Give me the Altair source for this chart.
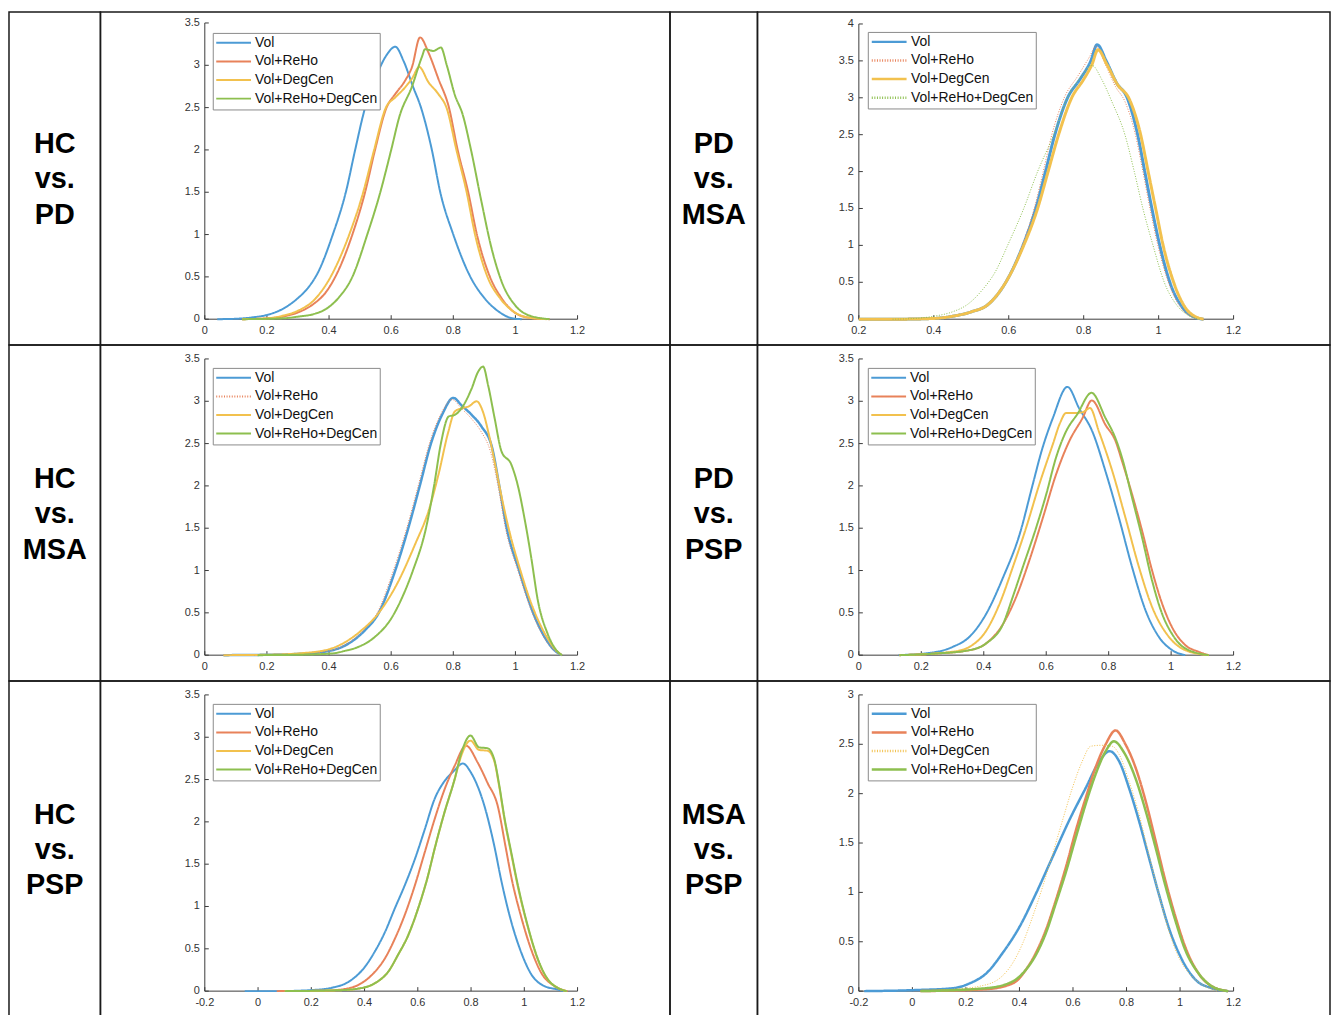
import altair as alt
import pandas as pd

# ---------------- data ----------------
SERIES = ["Vol", "Vol+ReHo", "Vol+DegCen", "Vol+ReHo+DegCen"]
COLORS = ["#4C9BD5", "#E8825A", "#F2C14E", "#8DBF4F"]

ROW_LABELS = [["HC\nvs.\nPD", "PD\nvs.\nMSA"],
              ["HC\nvs.\nMSA", "PD\nvs.\nPSP"],
              ["HC\nvs.\nPSP", "MSA\nvs.\nPSP"]]

# Panel 1: HC vs. PD
P1_VOL_X = [0.04, 0.10, 0.15, 0.20, 0.25, 0.30, 0.33, 0.364, 0.412, 0.454, 0.484, 0.516, 0.555, 0.585, 0.613, 0.64, 0.67, 0.696, 0.731, 0.758, 0.80, 0.855, 0.90, 0.95, 0.99, 1.02]
P1_VOL_Y = [0.0, 0.005, 0.02, 0.05, 0.12, 0.25, 0.36, 0.55, 1.0, 1.5, 2.0, 2.5, 2.9, 3.12, 3.22, 3.05, 2.75, 2.5, 2.0, 1.5, 1.0, 0.5, 0.25, 0.08, 0.01, 0.0]
P1_REHO_X = [0.12, 0.20, 0.25, 0.30, 0.35, 0.39, 0.42, 0.475, 0.516, 0.548, 0.585, 0.613, 0.645, 0.667, 0.693, 0.72, 0.752, 0.786, 0.814, 0.848, 0.876, 0.918, 0.955, 0.99, 1.04, 1.11]
P1_REHO_Y = [0.0, 0.01, 0.03, 0.08, 0.18, 0.32, 0.5, 1.0, 1.5, 2.0, 2.5, 2.66, 2.82, 2.98, 3.33, 3.15, 2.84, 2.5, 2.0, 1.5, 1.0, 0.5, 0.25, 0.1, 0.02, 0.0]
P1_DEG_X = [0.12, 0.20, 0.25, 0.30, 0.35, 0.405, 0.465, 0.51, 0.545, 0.583, 0.613, 0.645, 0.668, 0.69, 0.72, 0.752, 0.779, 0.81, 0.843, 0.87, 0.91, 0.95, 0.99, 1.04, 1.10]
P1_DEG_Y = [0.0, 0.01, 0.04, 0.10, 0.22, 0.5, 1.0, 1.5, 2.0, 2.5, 2.62, 2.74, 2.85, 2.98, 2.8, 2.66, 2.49, 2.0, 1.5, 1.0, 0.5, 0.25, 0.1, 0.02, 0.0]
P1_ALL_X = [0.12, 0.25, 0.30, 0.35, 0.39, 0.43, 0.475, 0.523, 0.565, 0.60, 0.627, 0.667, 0.699, 0.709, 0.736, 0.76, 0.779, 0.805, 0.83, 0.857, 0.89, 0.923, 0.955, 1.0, 1.04, 1.11]
P1_ALL_Y = [0.0, 0.01, 0.03, 0.06, 0.12, 0.25, 0.5, 1.0, 1.5, 2.0, 2.4, 2.75, 3.1, 3.19, 3.17, 3.21, 3.0, 2.65, 2.42, 2.0, 1.4, 0.84, 0.45, 0.16, 0.05, 0.0]

# Panel 2: PD vs. MSA
P2_VOL_X = [0.2, 0.3, 0.4, 0.45, 0.5, 0.545, 0.592, 0.638, 0.672, 0.698, 0.723, 0.757, 0.79, 0.819, 0.836, 0.86, 0.888, 0.916, 0.944, 0.963, 0.982, 1.003, 1.03, 1.065, 1.095, 1.12]
P2_VOL_Y = [0.0, 0.0, 0.01, 0.04, 0.1, 0.2, 0.5, 1.0, 1.5, 2.0, 2.5, 3.0, 3.25, 3.5, 3.72, 3.5, 3.2, 3.0, 2.5, 2.0, 1.5, 1.0, 0.5, 0.15, 0.03, 0.0]
P2_REHO_X = [0.2, 0.3, 0.4, 0.45, 0.5, 0.545, 0.592, 0.636, 0.668, 0.692, 0.715, 0.748, 0.785, 0.815, 0.833, 0.858, 0.885, 0.91, 0.938, 0.958, 0.977, 0.998, 1.026, 1.06, 1.09, 1.12]
P2_REHO_Y = [0.0, 0.0, 0.01, 0.04, 0.1, 0.2, 0.5, 1.0, 1.5, 2.0, 2.5, 3.0, 3.3, 3.55, 3.7, 3.45, 3.15, 2.95, 2.5, 2.0, 1.5, 1.0, 0.5, 0.15, 0.03, 0.0]
P2_DEG_X = [0.2, 0.3, 0.4, 0.45, 0.5, 0.545, 0.592, 0.64, 0.677, 0.705, 0.733, 0.768, 0.8, 0.822, 0.838, 0.862, 0.89, 0.922, 0.952, 0.972, 0.992, 1.012, 1.04, 1.072, 1.1, 1.12]
P2_DEG_Y = [0.0, 0.0, 0.01, 0.04, 0.1, 0.2, 0.5, 1.0, 1.5, 2.0, 2.5, 3.0, 3.25, 3.45, 3.65, 3.45, 3.18, 2.98, 2.5, 2.0, 1.5, 1.0, 0.5, 0.15, 0.03, 0.0]
P2_ALL_X = [0.29, 0.35, 0.4, 0.45, 0.49, 0.53, 0.565, 0.597, 0.64, 0.677, 0.72, 0.757, 0.795, 0.822, 0.848, 0.875, 0.91, 0.935, 0.958, 0.985, 1.015, 1.05, 1.08, 1.11]
P2_ALL_Y = [0.0, 0.01, 0.04, 0.1, 0.2, 0.4, 0.65, 1.0, 1.5, 2.0, 2.5, 3.0, 3.3, 3.44, 3.25, 2.95, 2.5, 2.0, 1.5, 1.0, 0.5, 0.18, 0.05, 0.0]

# Panel 3: HC vs. MSA
P3_VOL_X = [0.06, 0.2, 0.3, 0.4, 0.464, 0.517, 0.56, 0.613, 0.655, 0.692, 0.728, 0.765, 0.8, 0.827, 0.859, 0.891, 0.925, 0.948, 0.972, 1.012, 1.055, 1.093, 1.125, 1.15]
P3_VOL_Y = [0.0, 0.005, 0.015, 0.05, 0.14, 0.3, 0.5, 1.0, 1.5, 2.0, 2.5, 2.85, 3.04, 2.95, 2.84, 2.7, 2.45, 2.0, 1.5, 1.0, 0.52, 0.22, 0.06, 0.0]
P3_REHO_X = [0.06, 0.2, 0.3, 0.4, 0.46, 0.512, 0.555, 0.607, 0.65, 0.687, 0.723, 0.76, 0.797, 0.825, 0.857, 0.888, 0.92, 0.944, 0.968, 1.008, 1.052, 1.09, 1.123, 1.15]
P3_REHO_Y = [0.0, 0.005, 0.015, 0.05, 0.14, 0.3, 0.5, 1.0, 1.5, 2.0, 2.5, 2.85, 3.02, 2.92, 2.8, 2.65, 2.4, 2.0, 1.5, 1.0, 0.52, 0.22, 0.06, 0.0]
P3_DEG_X = [0.06, 0.2, 0.3, 0.4, 0.45, 0.5, 0.56, 0.62, 0.677, 0.72, 0.752, 0.784, 0.805, 0.83, 0.85, 0.875, 0.895, 0.915, 0.935, 0.955, 0.98, 1.012, 1.051, 1.1, 1.13, 1.15]
P3_DEG_Y = [0.0, 0.005, 0.02, 0.07, 0.15, 0.28, 0.5, 0.85, 1.31, 1.7, 2.13, 2.64, 2.88, 2.92, 2.94, 3.0, 2.88, 2.6, 2.25, 1.88, 1.47, 1.05, 0.61, 0.22, 0.06, 0.0]
P3_ALL_X = [0.17, 0.3, 0.41, 0.45, 0.496, 0.549, 0.603, 0.64, 0.67, 0.712, 0.738, 0.76, 0.785, 0.805, 0.827, 0.859, 0.88, 0.896, 0.912, 0.933, 0.955, 0.987, 1.008, 1.029, 1.051, 1.072, 1.104, 1.136, 1.15]
P3_ALL_Y = [0.0, 0.005, 0.02, 0.05, 0.1, 0.22, 0.45, 0.72, 1.0, 1.5, 2.0, 2.5, 2.82, 2.84, 2.92, 3.15, 3.35, 3.41, 3.19, 2.8, 2.41, 2.25, 2.0, 1.62, 1.15, 0.65, 0.25, 0.04, 0.0]

# Panel 4: PD vs. PSP
P4_VOL_X = [0.127, 0.25, 0.302, 0.355, 0.408, 0.462, 0.515, 0.557, 0.585, 0.621, 0.668, 0.705, 0.748, 0.79, 0.833, 0.875, 0.918, 0.96, 1.003, 1.045]
P4_VOL_Y = [0.0, 0.04, 0.1, 0.22, 0.49, 0.92, 1.43, 2.02, 2.41, 2.8, 3.17, 2.92, 2.64, 2.17, 1.62, 1.04, 0.53, 0.22, 0.06, 0.0]
P4_REHO_X = [0.13, 0.25, 0.355, 0.408, 0.462, 0.504, 0.546, 0.589, 0.631, 0.674, 0.716, 0.746, 0.79, 0.822, 0.843, 0.875, 0.907, 0.939, 0.971, 1.003, 1.045, 1.088, 1.12]
P4_REHO_Y = [0.0, 0.02, 0.06, 0.14, 0.37, 0.69, 1.12, 1.62, 2.13, 2.53, 2.8, 3.01, 2.72, 2.53, 2.29, 1.9, 1.47, 1.0, 0.61, 0.33, 0.12, 0.04, 0.0]
P4_DEG_X = [0.13, 0.3, 0.355, 0.408, 0.451, 0.493, 0.536, 0.578, 0.621, 0.645, 0.663, 0.69, 0.716, 0.74, 0.769, 0.812, 0.854, 0.897, 0.939, 0.992, 1.045, 1.12]
P4_DEG_Y = [0.0, 0.04, 0.1, 0.29, 0.61, 1.04, 1.51, 2.02, 2.49, 2.75, 2.86, 2.86, 2.87, 2.92, 2.64, 2.17, 1.62, 1.04, 0.57, 0.22, 0.06, 0.0]
P4_ALL_X = [0.13, 0.25, 0.355, 0.408, 0.462, 0.493, 0.525, 0.568, 0.6, 0.631, 0.663, 0.7, 0.745, 0.79, 0.822, 0.843, 0.875, 0.907, 0.939, 0.971, 1.003, 1.045, 1.12]
P4_ALL_Y = [0.0, 0.02, 0.06, 0.14, 0.37, 0.69, 1.04, 1.51, 1.9, 2.33, 2.64, 2.85, 3.1, 2.8, 2.56, 2.33, 1.86, 1.39, 0.88, 0.49, 0.25, 0.08, 0.0]

# Panel 5: HC vs. PSP
P5_VOL_X = [-0.05, 0.07, 0.215, 0.277, 0.34, 0.402, 0.439, 0.477, 0.514, 0.551, 0.589, 0.626, 0.663, 0.70, 0.735, 0.769, 0.80, 0.85, 0.887, 0.914, 0.951, 0.988, 1.026, 1.075, 1.125, 1.15]
P5_VOL_Y = [0.0, 0.0, 0.015, 0.04, 0.11, 0.29, 0.47, 0.70, 0.98, 1.25, 1.56, 1.91, 2.27, 2.48, 2.6, 2.69, 2.58, 2.19, 1.72, 1.3, 0.82, 0.46, 0.2, 0.06, 0.02, 0.0]
P5_REHO_X = [0.07, 0.25, 0.302, 0.377, 0.427, 0.477, 0.514, 0.551, 0.589, 0.626, 0.663, 0.70, 0.738, 0.781, 0.825, 0.862, 0.9, 0.93, 0.951, 0.988, 1.026, 1.063, 1.113, 1.163]
P5_REHO_Y = [0.0, 0.005, 0.015, 0.074, 0.19, 0.39, 0.62, 0.9, 1.25, 1.64, 2.03, 2.38, 2.66, 2.9, 2.7, 2.46, 2.19, 1.7, 1.35, 0.88, 0.49, 0.22, 0.06, 0.0]
P5_DEG_X = [0.1, 0.3, 0.377, 0.439, 0.489, 0.526, 0.564, 0.601, 0.638, 0.663, 0.70, 0.738, 0.763, 0.798, 0.83, 0.862, 0.887, 0.905, 0.926, 0.951, 0.976, 1.013, 1.051, 1.088, 1.125, 1.16]
P5_DEG_Y = [0.0, 0.01, 0.03, 0.094, 0.23, 0.43, 0.66, 0.975, 1.36, 1.68, 2.11, 2.5, 2.78, 2.96, 2.85, 2.84, 2.72, 2.43, 2.02, 1.62, 1.23, 0.76, 0.37, 0.14, 0.04, 0.0]
P5_ALL_X = [0.1, 0.3, 0.377, 0.439, 0.489, 0.526, 0.564, 0.601, 0.638, 0.663, 0.70, 0.738, 0.763, 0.798, 0.83, 0.862, 0.887, 0.905, 0.926, 0.951, 0.976, 1.013, 1.051, 1.088, 1.125, 1.16]
P5_ALL_Y = [0.0, 0.01, 0.03, 0.094, 0.23, 0.43, 0.66, 0.975, 1.36, 1.68, 2.11, 2.5, 2.81, 3.02, 2.88, 2.87, 2.74, 2.45, 2.04, 1.64, 1.25, 0.77, 0.38, 0.14, 0.04, 0.0]

# Panel 6: MSA vs. PSP
P6_VOL_X = [-0.18, 0.004, 0.153, 0.215, 0.276, 0.338, 0.4, 0.462, 0.524, 0.586, 0.648, 0.697, 0.737, 0.772, 0.809, 0.846, 0.883, 0.92, 0.957, 1.007, 1.056, 1.118, 1.18]
P6_VOL_Y = [0.0, 0.01, 0.03, 0.08, 0.18, 0.39, 0.65, 0.99, 1.36, 1.73, 2.06, 2.32, 2.43, 2.33, 2.06, 1.73, 1.36, 0.99, 0.65, 0.32, 0.12, 0.03, 0.0]
P6_REHO_X = [0.03, 0.276, 0.376, 0.425, 0.462, 0.499, 0.536, 0.574, 0.611, 0.648, 0.685, 0.722, 0.759, 0.796, 0.833, 0.871, 0.908, 0.945, 0.982, 1.019, 1.069, 1.118, 1.18]
P6_REHO_Y = [0.0, 0.02, 0.08, 0.22, 0.39, 0.62, 0.92, 1.26, 1.63, 1.96, 2.27, 2.5, 2.64, 2.5, 2.27, 1.93, 1.53, 1.12, 0.76, 0.45, 0.18, 0.05, 0.0]
P6_DEG_X = [0.05, 0.153, 0.252, 0.326, 0.376, 0.413, 0.45, 0.487, 0.524, 0.561, 0.598, 0.635, 0.666, 0.705, 0.747, 0.772, 0.809, 0.846, 0.883, 0.92, 0.957, 0.994, 1.044, 1.093, 1.14]
P6_DEG_Y = [0.0, 0.02, 0.05, 0.13, 0.29, 0.49, 0.76, 1.06, 1.39, 1.73, 2.06, 2.33, 2.48, 2.49, 2.48, 2.4, 2.13, 1.8, 1.39, 0.99, 0.62, 0.35, 0.15, 0.05, 0.0]
P6_ALL_X = [0.03, 0.276, 0.376, 0.425, 0.462, 0.499, 0.536, 0.574, 0.611, 0.648, 0.685, 0.722, 0.753, 0.79, 0.833, 0.871, 0.908, 0.945, 0.982, 1.019, 1.069, 1.118, 1.18]
P6_ALL_Y = [0.0, 0.03, 0.1, 0.22, 0.37, 0.59, 0.89, 1.21, 1.56, 1.9, 2.2, 2.43, 2.53, 2.42, 2.16, 1.83, 1.46, 1.07, 0.72, 0.42, 0.18, 0.05, 0.0]

# axis ticks
X_TICKS_A = [0, 0.2, 0.4, 0.6, 0.8, 1, 1.2]
X_TICKS_B = [0.2, 0.4, 0.6, 0.8, 1, 1.2]
X_TICKS_C = [-0.2, 0, 0.2, 0.4, 0.6, 0.8, 1, 1.2]
Y_TICKS_35 = [0, 0.5, 1, 1.5, 2, 2.5, 3, 3.5]
Y_TICKS_4 = [0, 0.5, 1, 1.5, 2, 2.5, 3, 3.5, 4]
Y_TICKS_3 = [0, 0.5, 1, 1.5, 2, 2.5, 3]

# ---------------- layout / style ----------------
COL_W = [92, 573, 88, 576]
ROW_H = [335, 338, 342]
TEXT_Y = [142, 144, 143.5]
DOT = [1, 1.6]
SOLID = [1, 0]
AXIS_COLOR = "#3a3a3a"
LABEL_COLOR = "#333333"
FONT = "Liberation Sans"

PANELS = [
    dict(curves=[(P1_VOL_X, P1_VOL_Y), (P1_REHO_X, P1_REHO_Y), (P1_DEG_X, P1_DEG_Y), (P1_ALL_X, P1_ALL_Y)],
         widths=[2, 2, 2, 2], dotted=[], xdom=[0, 1.2], ydom=[0, 3.5], xt=X_TICKS_A, yt=Y_TICKS_35,
         xr=[105, 480], yr=[309, 11], leg=(113, 21), lsw=2),
    dict(curves=[(P2_VOL_X, P2_VOL_Y), (P2_REHO_X, P2_REHO_Y), (P2_DEG_X, P2_DEG_Y), (P2_ALL_X, P2_ALL_Y)],
         widths=[3, 1, 3, 1], dotted=["Vol+ReHo", "Vol+ReHo+DegCen"], xdom=[0.2, 1.2], ydom=[0, 4], xt=X_TICKS_B, yt=Y_TICKS_4,
         xr=[102, 479], yr=[309, 12], leg=(111, 20), lsw=2.5),
    dict(curves=[(P3_VOL_X, P3_VOL_Y), (P3_REHO_X, P3_REHO_Y), (P3_DEG_X, P3_DEG_Y), (P3_ALL_X, P3_ALL_Y)],
         widths=[2.5, 1, 2, 2], dotted=["Vol+ReHo"], xdom=[0, 1.2], ydom=[0, 3.5], xt=X_TICKS_A, yt=Y_TICKS_35,
         xr=[105, 480], yr=[312, 14], leg=(113, 23), lsw=2),
    dict(curves=[(P4_VOL_X, P4_VOL_Y), (P4_REHO_X, P4_REHO_Y), (P4_DEG_X, P4_DEG_Y), (P4_ALL_X, P4_ALL_Y)],
         widths=[2, 2, 2, 2], dotted=[], xdom=[0, 1.2], ydom=[0, 3.5], xt=X_TICKS_A, yt=Y_TICKS_35,
         xr=[102, 479], yr=[312, 14], leg=(111, 23), lsw=2),
    dict(curves=[(P5_VOL_X, P5_VOL_Y), (P5_REHO_X, P5_REHO_Y), (P5_DEG_X, P5_DEG_Y), (P5_ALL_X, P5_ALL_Y)],
         widths=[2, 2, 2, 2], dotted=[], xdom=[-0.2, 1.2], ydom=[0, 3.5], xt=X_TICKS_C, yt=Y_TICKS_35,
         xr=[105, 480], yr=[312, 14], leg=(113, 23), lsw=2),
    dict(curves=[(P6_VOL_X, P6_VOL_Y), (P6_REHO_X, P6_REHO_Y), (P6_DEG_X, P6_DEG_Y), (P6_ALL_X, P6_ALL_Y)],
         widths=[2.5, 2.5, 1, 2.5], dotted=["Vol+DegCen"], xdom=[-0.2, 1.2], ydom=[0, 3], xt=X_TICKS_C, yt=Y_TICKS_3,
         xr=[102, 479], yr=[312, 14], leg=(111, 23), lsw=2.5),
]


def plot_cell(p, w, h):
    rows = []
    for name, (xs, ys), lw in zip(SERIES, p["curves"], p["widths"]):
        for xv, yv in zip(xs, ys):
            rows.append({"series": name, "x": xv, "y": yv, "lw": lw})
    df = pd.DataFrame(rows)
    xs_ = alt.Scale(domain=p["xdom"], range=p["xr"], nice=False, zero=False)
    ys_ = alt.Scale(domain=p["ydom"], range=p["yr"], nice=False, zero=False)
    x0, x1 = p["xr"]
    yb, ytop = p["yr"]
    dashes = [DOT if s in p["dotted"] else SOLID for s in SERIES]
    legend = alt.Legend(title=None, orient="none", legendX=p["leg"][0], legendY=p["leg"][1],
                        symbolStrokeWidth=p["lsw"])

    lines = alt.Chart(df).mark_line(interpolate="monotone").encode(
        x=alt.X("x:Q", scale=xs_, axis=None),
        y=alt.Y("y:Q", scale=ys_, axis=None),
        color=alt.Color("series:N", scale=alt.Scale(domain=SERIES, range=COLORS), legend=legend),
        strokeDash=alt.StrokeDash("series:N", scale=alt.Scale(domain=SERIES, range=dashes), legend=legend),
        strokeWidth=alt.StrokeWidth("lw:Q", scale=None, legend=None),
    )
    xticks_df = pd.DataFrame({"t": p["xt"], "lab": [str(v) for v in p["xt"]]})
    yticks_df = pd.DataFrame({"t": p["yt"], "lab": [str(v) for v in p["yt"]]})
    dom_df = pd.DataFrame({"x0": [p["xdom"][0]], "x1": [p["xdom"][1]],
                           "y0": [p["ydom"][0]], "y1": [p["ydom"][1]]})

    x_dom = alt.Chart(dom_df).mark_rule(color=AXIS_COLOR, strokeWidth=1).encode(
        x=alt.X("x0:Q", scale=xs_, axis=None), x2="x1:Q", y=alt.value(yb))
    y_dom = alt.Chart(dom_df).mark_rule(color=AXIS_COLOR, strokeWidth=1).encode(
        y=alt.Y("y0:Q", scale=ys_, axis=None), y2="y1:Q", x=alt.value(x0))
    x_tk = alt.Chart(xticks_df).mark_rule(color=AXIS_COLOR, strokeWidth=1).encode(
        x=alt.X("t:Q", scale=xs_, axis=None), y=alt.value(yb), y2=alt.value(yb - 4))
    y_tk = alt.Chart(yticks_df).mark_rule(color=AXIS_COLOR, strokeWidth=1).encode(
        y=alt.Y("t:Q", scale=ys_, axis=None), x=alt.value(x0), x2=alt.value(x0 + 4))
    x_lab = alt.Chart(xticks_df).mark_text(fontSize=11, color=LABEL_COLOR, align="center",
                                           baseline="top", font=FONT).encode(
        x=alt.X("t:Q", scale=xs_, axis=None), y=alt.value(yb + 6), text="lab:N")
    y_lab = alt.Chart(yticks_df).mark_text(fontSize=11, color=LABEL_COLOR, align="right",
                                           baseline="middle", font=FONT).encode(
        y=alt.Y("t:Q", scale=ys_, axis=None), x=alt.value(x0 - 5), text="lab:N")
    return alt.layer(x_dom, y_dom, x_tk, y_tk, x_lab, y_lab, lines).properties(width=w, height=h)


def label_cell(text, w, h, ty):
    return alt.Chart(pd.DataFrame({"label": [text]})).mark_text(
        font=FONT, fontWeight="bold", fontSize=29, lineBreak="\n", lineHeight=35.5,
        align="center", baseline="alphabetic", color="black",
    ).encode(text="label:N", x=alt.value(w / 2), y=alt.value(ty)).properties(width=w, height=h)


cells = []
for r in range(3):
    h = ROW_H[r]
    cells += [
        label_cell(ROW_LABELS[r][0], COL_W[0], h, TEXT_Y[r]),
        plot_cell(PANELS[2 * r], COL_W[1], h),
        label_cell(ROW_LABELS[r][1], COL_W[2], h, TEXT_Y[r]),
        plot_cell(PANELS[2 * r + 1], COL_W[3], h),
    ]

chart = alt.concat(*cells, columns=4, spacing=0, bounds="flush").resolve_scale(
    color="independent", strokeDash="independent").resolve_legend(
    color="independent", strokeDash="independent").properties(
    padding=0, background="white"
).configure(font=FONT).configure_view(
    stroke="#1a1a1a", strokeWidth=1.5
).configure_legend(
    symbolType="stroke", symbolSize=1225, symbolStrokeWidth=2, clipHeight=15, rowPadding=3.7, padding=2.5,
    labelOffset=3, labelFontSize=14, labelFont=FONT, labelColor="#111111", labelLimit=300,
    strokeColor="#8a8a8a", fillColor="white", cornerRadius=0
)

chart.save("out.html", embed_options={"renderer": "svg", "actions": False})
